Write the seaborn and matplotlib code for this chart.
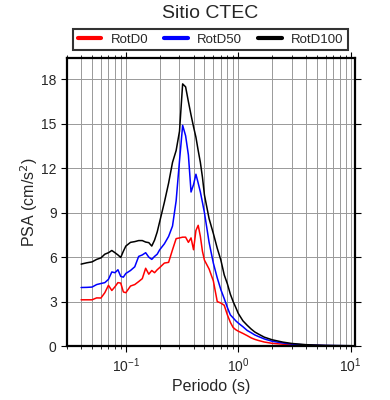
import numpy as np
import pandas as pd
import matplotlib
matplotlib.use('Agg')
import matplotlib.pyplot as plt
import seaborn as sns
from matplotlib.ticker import LogLocator, MultipleLocator, NullFormatter

# periods (s)
periods = [0.04, 0.045, 0.05, 0.055, 0.06, 0.065, 0.07, 0.075, 0.08, 0.085,
           0.09, 0.095, 0.10, 0.11, 0.12, 0.13, 0.14, 0.15, 0.16, 0.17,
           0.18, 0.19, 0.20, 0.22, 0.24, 0.26, 0.28, 0.30, 0.32, 0.34,
           0.36, 0.38, 0.40, 0.42, 0.44, 0.46, 0.48, 0.50, 0.55, 0.60,
           0.65, 0.70, 0.75, 0.80, 0.85, 0.90, 0.95, 1.0, 1.1, 1.2,
           1.3, 1.4, 1.5, 1.7, 2.0, 2.5, 3.0, 4.0, 5.0, 6.0, 7.5, 10.0]

rotd0 = [3.12, 3.12, 3.12, 3.25, 3.24, 3.6, 4.1, 3.75, 4.0, 4.28,
         4.25, 3.65, 3.6, 4.05, 4.15, 4.35, 4.55, 5.25, 4.85, 5.1,
         4.95, 5.15, 5.3, 5.6, 5.65, 6.5, 7.25, 7.3, 7.35, 7.35,
         7.0, 7.3, 6.5, 7.8, 8.15, 7.4, 6.4, 5.8, 5.2, 4.4,
         3.0, 2.9, 2.75, 2.1, 1.6, 1.25, 1.1, 1.0, 0.85, 0.7,
         0.55, 0.45, 0.38, 0.27, 0.18, 0.12, 0.08, 0.05, 0.03, 0.02, 0.015, 0.01]

rotd50 = [3.95, 3.96, 3.98, 4.15, 4.22, 4.28, 4.5, 5.0, 4.95, 5.15,
          4.7, 4.65, 4.9, 5.1, 5.35, 6.05, 6.15, 6.3, 6.0, 5.85,
          6.05, 6.2, 6.5, 6.9, 7.4, 8.1, 9.8, 12.5, 14.9, 14.2,
          12.9, 10.4, 10.9, 11.6, 11.0, 10.4, 9.7, 9.0, 7.0, 5.6,
          4.6, 3.8, 3.2, 2.6, 2.1, 1.9, 1.7, 1.55, 1.3, 1.05,
          0.9, 0.75, 0.65, 0.48, 0.32, 0.2, 0.13, 0.07, 0.05, 0.035, 0.025, 0.015]

rotd100 = [5.53, 5.62, 5.68, 5.85, 5.95, 6.2, 6.3, 6.45, 6.3, 6.15,
           5.98, 6.4, 6.75, 7.0, 7.05, 7.12, 7.12, 7.02, 6.98, 6.75,
           7.15, 7.7, 8.4, 9.7, 11.0, 12.4, 13.2, 14.5, 17.7, 17.5,
           16.5, 15.6, 14.8, 14.1, 13.2, 12.4, 11.4, 10.2, 8.6, 7.6,
           6.6, 5.8, 4.8, 4.2, 3.5, 3.0, 2.6, 2.2, 1.7, 1.4,
           1.15, 0.95, 0.82, 0.6, 0.42, 0.26, 0.17, 0.09, 0.06, 0.04, 0.03, 0.02]

series = ['RotD0', 'RotD50', 'RotD100']
colors = ['red', 'blue', 'black']

df = pd.DataFrame({'Periodo': periods * 3,
                   'PSA': rotd0 + rotd50 + rotd100,
                   'Comp': np.repeat(series, len(periods))})

sns.set_style('white')
plt.rcParams['font.family'] = ['Liberation Sans', 'DejaVu Sans']

fig = plt.figure(figsize=(3.9, 4.0), dpi=100)
ax = fig.add_axes([0.172, 0.135, 0.738, 0.72])

sns.lineplot(data=df, x='Periodo', y='PSA', hue='Comp', hue_order=series,
             palette=colors, linewidth=1.1, ax=ax, legend=True, sort=False)

ax.set_xscale('log')
ax.set_xlim(0.03, 10.9)
ax.set_ylim(0, 19.45)
ax.yaxis.set_major_locator(MultipleLocator(3))
ax.xaxis.set_major_locator(LogLocator(base=10))
ax.xaxis.set_minor_locator(LogLocator(base=10, subs=np.arange(2, 10)))
ax.xaxis.set_minor_formatter(NullFormatter())

ax.grid(True, which='major', color='#999999', linewidth=0.7)
ax.grid(True, which='minor', axis='x', color='#999999', linewidth=0.7)
ax.set_axisbelow(True)

for s in ax.spines.values():
    s.set_linewidth(1.6)
    s.set_color('black')

ax.tick_params(which='both', direction='out', top=True, right=True,
               bottom=True, left=True, labelsize=10, color='black')
ax.tick_params(which='major', length=4, width=0.8)
ax.tick_params(which='minor', length=2.5, width=0.6)

ax.set_xlabel('Periodo (s)', fontsize=11.5, labelpad=3)
ax.set_ylabel('PSA (cm/s$^2$)', fontsize=11.5, labelpad=1)

handles, labels = ax.get_legend_handles_labels()
leg = ax.legend(handles, labels, loc='center', bbox_to_anchor=(0.498, 1.064),
                ncol=3, fontsize=9.5, frameon=True, fancybox=False,
                handlelength=1.8, columnspacing=1.2, handletextpad=0.7,
                borderpad=0.35, borderaxespad=0)
leg.get_frame().set_edgecolor('black')
leg.get_frame().set_linewidth(1.5)
for line in leg.get_lines():
    line.set_linewidth(3)

fig.text(0.54, 0.965, 'Sitio CTEC', ha='center', va='center', fontsize=14)

fig.savefig('out.png', dpi=100)
